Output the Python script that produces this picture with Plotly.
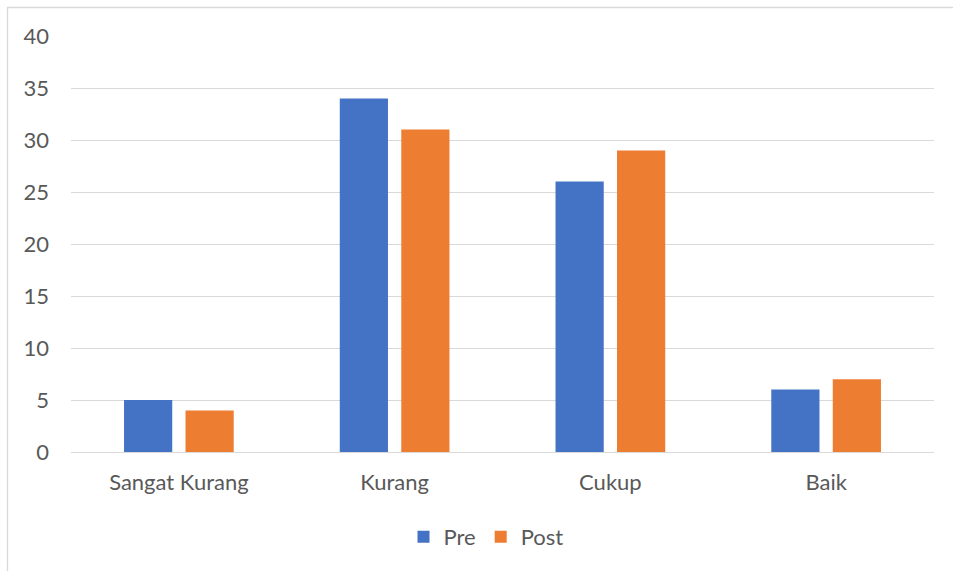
import plotly.graph_objects as go

categories = ["Sangat Kurang", "Kurang", "Cukup", "Baik"]
pre = [5, 34, 26, 6]
post = [4, 31, 29, 7]
y_ticks = [0, 5, 10, 15, 20, 25, 30, 35, 40]

W, H = 953, 571
L, R, T, B = 71, 19, 36, 119
pw, ph = W - L - R, H - T - B

font = dict(family="Lato, 'Open Sans', sans-serif", size=22, color="#595959")

fig = go.Figure()
fig.add_trace(go.Bar(name="Pre", x=categories, y=pre, marker=dict(color="#4472C4", line=dict(width=0))))
fig.add_trace(go.Bar(name="Post", x=categories, y=post, marker=dict(color="#ED7D31", line=dict(width=0))))

def px_x(p):
    return (p - L) / pw

def px_y(p):
    return (H - B - p) / ph

fig.update_layout(
    width=W, height=H,
    margin=dict(l=L, r=R, t=T, b=B),
    paper_bgcolor="white", plot_bgcolor="white",
    barmode="group", bargap=0.43, bargroupgap=0.216,
    font=font,
    showlegend=True,
    legend=dict(orientation="h", x=px_x(486), xanchor="center", y=px_y(537), yanchor="middle",
                font=font, itemclick=False, traceorder="normal"),
    xaxis=dict(showgrid=False, showline=False, zeroline=False, ticks="",
               tickfont=font, ticklabelstandoff=15),
    yaxis=dict(range=[0, 40], tickvals=y_ticks, showgrid=True, gridcolor="#D9D9D9", gridwidth=1.3,
               zeroline=True, zerolinecolor="#D9D9D9", zerolinewidth=1.3,
               showline=False, ticks="", tickfont=font, ticklabelstandoff=21),
    shapes=[dict(type="rect", xref="paper", yref="paper",
                 x0=px_x(7.5), x1=px_x(990), y0=px_y(600), y1=px_y(7.5),
                 line=dict(color="#D9D9D9", width=1.3), fillcolor="rgba(0,0,0,0)", layer="below")],
)

fig.write_html("out.html")
